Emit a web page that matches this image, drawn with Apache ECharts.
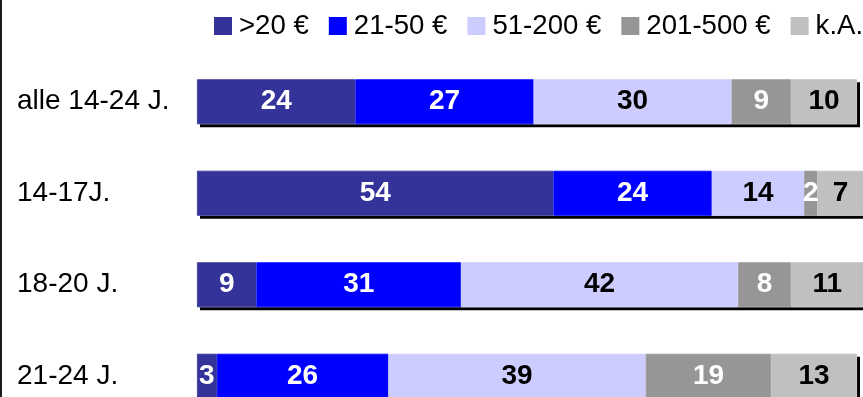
<!DOCTYPE html>
<html>
<head>
<meta charset="utf-8">
<script src="https://cdn.jsdelivr.net/npm/echarts@6/dist/echarts.min.js"></script>
<style>
  html, body { margin: 0; padding: 0; background: #fff; }
  #chart { width: 863px; height: 397px; }
</style>
</head>
<body>
<div id="chart"></div>
<script>
// Age groups, top to bottom
const categories = ['alle 14-24 J.', '14-17J.', '18-20 J.', '21-24 J.'];

// Share per spending bracket (%)
const seriesNames = ['>20 €', '21-50 €', '51-200 €', '201-500 €', 'k.A.'];
const under20   = [24, 54, 9, 3];
const from21to50 = [27, 24, 31, 26];
const from51to200 = [30, 14, 42, 39];
const from201to500 = [9, 2, 8, 19];
const noAnswer  = [10, 7, 11, 13];

const values = [under20, from21to50, from51to200, from201to500, noAnswer];
const colors = ['#333399', '#0000FF', '#CCCCFF', '#969696', '#C0C0C0'];
const labelColors = ['#FFFFFF', '#FFFFFF', '#000000', '#FFFFFF', '#000000'];

// Row totals: one shadowed bar behind each stacked row
const totals = categories.map((_, r) => values.reduce((s, arr) => s + arr[r], 0));

const FONT = '"Liberation Sans", Arial, sans-serif';

const chart = echarts.init(document.getElementById('chart'), null, { renderer: 'canvas' });

const stackSeries = seriesNames.map((name, i) => ({
  name: name,
  type: 'bar',
  stack: 'total',
  barWidth: 45,
  barGap: '-100%',
  z: 3,
  data: values[i],
  itemStyle: {
    color: colors[i],
    borderColor: colors[i],
    borderWidth: 0.8
  },
  label: {
    show: true,
    position: 'inside',
    color: labelColors[i],
    fontSize: 28,
    fontWeight: 'bold',
    fontFamily: FONT,
    textBorderWidth: 0
  }
}));

chart.setOption({
  animation: false,
  backgroundColor: '#FFFFFF',
  textStyle: { fontFamily: FONT },
  legend: {
    left: 214,
    top: 12,
    width: 760,
    padding: 0,
    icon: 'rect',
    itemWidth: 18,
    itemHeight: 18,
    itemGap: 20,
    itemStyle: { borderWidth: 0 },
    textStyle: { fontSize: 27.6, color: '#000', fontFamily: FONT, lineHeight: 28, padding: [0, 0, 0, 2] },
    data: seriesNames
  },
  grid: { left: 197, top: 56, width: 666.6, height: 366, outerBoundsMode: 'none', containLabel: false },
  xAxis: {
    type: 'value',
    min: 0,
    max: 101,
    show: false
  },
  yAxis: {
    type: 'category',
    inverse: true,
    data: categories,
    axisLine: { show: false },
    axisTick: { show: false },
    splitLine: { show: false },
    axisLabel: {
      align: 'left',
      margin: 180,
      fontSize: 28,
      color: '#000',
      fontFamily: FONT
    }
  },
  graphic: [
    { type: 'rect', left: 0, top: 0, shape: { width: 2, height: 397 }, style: { fill: '#1a1a1a' }, z: 10 }
  ],
  series: [
    {
      name: 'shadow',
      type: 'bar',
      barWidth: 45,
      barGap: '-100%',
      z: 1,
      silent: true,
      data: totals,
      itemStyle: {
        color: '#FFFFFF',
        shadowColor: '#000000',
        shadowOffsetX: 3,
        shadowOffsetY: 3,
        shadowBlur: 0
      },
      label: { show: false }
    }
  ].concat(stackSeries)
});
</script>
</body>
</html>
